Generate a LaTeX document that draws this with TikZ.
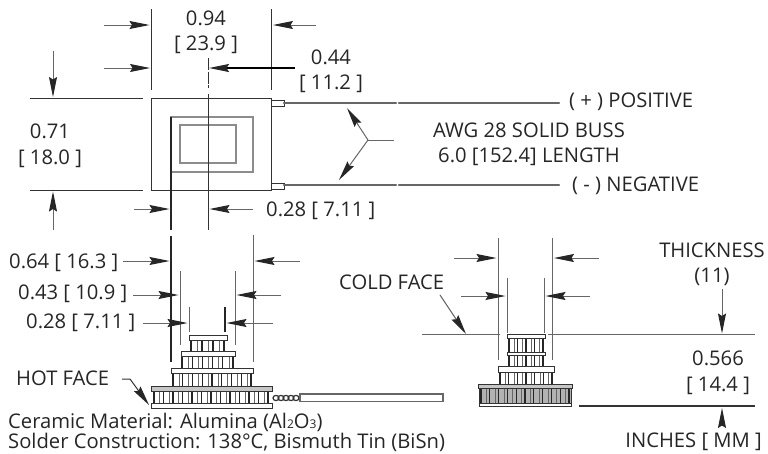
\documentclass[tikz,border=0pt]{standalone}
\usepackage{fontspec}
\setmainfont{Open Sans}
\usetikzlibrary{arrows.meta}
\definecolor{ink}{gray}{0.2}
\definecolor{mid}{gray}{0.4}
\tikzset{
  lbl/.style={inner sep=0pt,text=black!85,font=\fontsize{20.2}{25.5}\selectfont,align=center},
  dimline/.style={draw=ink,line width=0.9pt},
  thinline/.style={draw=mid,line width=1pt},
  darkline/.style={draw=black!85,line width=1.3pt},
  arr/.style={draw=mid,line width=1pt,-{Stealth[length=20pt,width=8pt,inset=2.5pt,black!85]}},
  platebox/.style={draw=ink,fill=white,line width=1pt},
  pillar/.style={draw=black!85,line width=1.2pt},
  wire/.style={draw=mid,line width=2.2pt,line cap=round}
}
\newcommand{\plateat}[4]{\draw[platebox] (#1,#3) rectangle (#2,#4);}
\newcommand{\pillarsat}[5]{%
  \pgfmathsetmacro{\pdx}{(#2-#1)/#5}%
  \foreach \pk in {0,...,#5}{%
    \draw[pillar] ({#1+\pk*\pdx},#3) -- ({#1+\pk*\pdx},#4);
    \ifnum\pk<#5 \draw[draw=mid,line width=0.9pt] ({#1+\pk*\pdx+0.62*\pdx},#3) -- ({#1+\pk*\pdx+0.62*\pdx},#4);\fi
  }}
\newcommand{\lowdigit}[1]{{\fontsize{12}{12}\selectfont #1}}
\begin{document}
\begin{tikzpicture}[x=1pt,y=-1pt]
\useasboundingbox (0,0) rectangle (768,453);
\fill[white] (0,0) rectangle (768,453);
% --- top view
\draw[dimline] (151,98) rectangle (271.5,190);
\draw[draw=gray!90,line width=1.3pt] (171,117) rectangle (253,172);
\draw[draw=gray!90,line width=1.3pt] (180,125) rectangle (236,163);
\draw[dimline] (271.5,100) rectangle (284,106);
\draw[dimline] (271.5,183) rectangle (284,189);
\draw[wire] (284,102.7) -- (396,102.7);
\draw[wire] (399,102.7) -- (559,102.7);
\draw[wire] (284,185) -- (396,185);
\draw[wire] (399,185) -- (559,185);
% extension lines
\draw[dimline] (151,9) -- (151,90);
\draw[dimline] (271.5,9) -- (271.5,90);
\draw[dimline] (30,98) -- (143,98);
\draw[dimline] (30,190.5) -- (143,190.5);
\draw[dimline,dash pattern=on 12pt off 1.5pt] (208,58) -- (208,88);
\draw[dimline] (208,94) -- (208,230);
\draw[darkline] (171,117) -- (171,230);
% dimension arrows
\draw[arr] (104,25) -- (149.5,25);
\draw[arr] (316,25) -- (273,25);
\draw[arr] (104,68) -- (150,68);
\draw[arr,draw=black,line width=1.3pt] (295,68) -- (209,68);
\draw[arr] (53,51) -- (53,97);
\draw[arr] (53,230) -- (53,191.5);
\draw[arr] (134,209) -- (169.5,209);
\draw[arr] (253,209) -- (209.5,209);
% fork
\coordinate (fork) at (368,140);
\draw[thinline] (fork) -- (394,140);
\draw[arr] (fork) -- (347,108);
\draw[arr] (fork) -- (339,180);
% --- side view left
\draw[darkline] (171,236) -- (171,362);
\draw[thinline] (253,235) -- (253,362);
\draw[thinline] (180.5,271) -- (180.5,345);
\draw[thinline] (235,271) -- (235,345);
\draw[thinline] (189.5,307) -- (189.5,332);
\draw[darkline] (225,307) -- (225,332);
\draw[arr] (123,261) -- (169.5,261);
\draw[arr] (300,261) -- (254.5,261);
\draw[arr] (133,295) -- (178.5,295);
\draw[arr] (281,295) -- (236.5,295);
\draw[arr] (143,323) -- (187.5,323);
\draw[arr] (273,323) -- (226.5,323);
\pillarsat{191}{224}{340}{351}{3}
\pillarsat{182}{233}{356}{368}{5}
\pillarsat{173}{251}{373}{386}{8}
\pillarsat{154}{268}{391}{403}{12}
\plateat{189}{227}{335}{340}
\plateat{181}{235}{351}{356}
\plateat{171}{253}{368}{373}
\draw[platebox,fill=gray!45] (151,386) rectangle (272,391);
\plateat{151}{272}{403}{408}
% wire with braid
\foreach \bx in {276,281,286,291,296}{\draw[draw=ink,line width=1.2pt] (\bx,398) circle[x radius=3pt,y radius=2.6pt];}
\draw[draw=mid,fill=white,line width=1.4pt] (300,394) rectangle (443,401.5);
\draw[draw=ink,line width=1pt,-{Stealth[length=20pt,width=8pt,inset=2.5pt,black!85]}] (122,379) -- (130,379) -- (149,405);
% --- side view right
\draw[thinline] (498,238) -- (498,360);
\draw[thinline] (552.5,238) -- (552.5,360);
\draw[thinline] (507,278) -- (507,333);
\draw[thinline] (544,278) -- (544,333);
\draw[arr] (454,258) -- (496.5,258);
\draw[arr] (599,258) -- (554,258);
\draw[arr] (461,296) -- (505.5,296);
\draw[arr] (590,296) -- (545.5,296);
\draw[thinline] (422,334.5) -- (500,334.5);
\draw[thinline] (548,334.5) -- (755,334.5);
\draw[draw=ink,line width=1.4pt] (579,406) -- (755,406);
\pillarsat{509}{543}{338}{352}{4}
\pillarsat{509}{543}{355}{366}{4}
\pillarsat{500}{552}{372}{384}{6}
\draw[draw=ink,fill=gray!60,line width=1pt] (479,388) rectangle (571,403);
\pillarsat{481}{569}{388}{403}{10}
\plateat{507}{545}{334}{338}
\plateat{507}{545}{352}{355}
\plateat{498}{554}{366}{372}
\draw[draw=ink,fill=gray!45,line width=1pt] (478,384) rectangle (572,388);
\plateat{479}{571}{403}{406.5}
\draw[arr] (440,295) -- (466,334);
\draw[arr] (722,289) -- (722,333.5);
\draw[arr,draw=black!85] (722,426) -- (722,408);
% --- labels
\node[lbl] (dimA) at (206,32.5) {0.94\\{[ 23.9 ]}};
\node[lbl] (dimB) at (331,71.5) {0.44\\{[ 11.2 ]}};
\node[lbl] (dimC) at (50,146) {0.71\\{[ 18.0 ]}};
\node[lbl,anchor=west] (dimD) at (266,210.5) {0.28 [ 7.11 ]};
\node[lbl,anchor=west] (pos) at (569,101.5) {( + ) POSITIVE};
\node[lbl,anchor=west] (neg) at (572,185.5) {( - ) NEGATIVE};
\node[lbl] (awg) at (529,144.5) {AWG 28 SOLID BUSS\\6.0 [152.4] LENGTH};
\node[lbl,anchor=west] (d1) at (9,263) {0.64 [ 16.3 ]};
\node[lbl,anchor=west] (d2) at (18,294) {0.43 [ 10.9 ]};
\node[lbl,anchor=west] (d3) at (26,323) {0.28 [ 7.11 ]};
\node[lbl,anchor=west] (hot) at (16,378.5) {HOT FACE};
\node[lbl,anchor=west] (mat) at (8,422) {Ceramic Material: Alumina (Al\lowdigit{2}O\lowdigit{3})};
\node[lbl,anchor=west] (sol) at (8,442.5) {Solder Construction: 138°C, Bismuth Tin (BiSn)};
\node[lbl,anchor=west] (cold) at (339,282) {COLD FACE};
\node[lbl] (thk) at (712,264.5) {THICKNESS\\(11)};
\node[lbl] (h) at (718,373) {0.566\\{[ 14.4 ]}};
\node[lbl,anchor=east] (units) at (762,442) {INCHES [ MM ]};
\end{tikzpicture}
\end{document}
